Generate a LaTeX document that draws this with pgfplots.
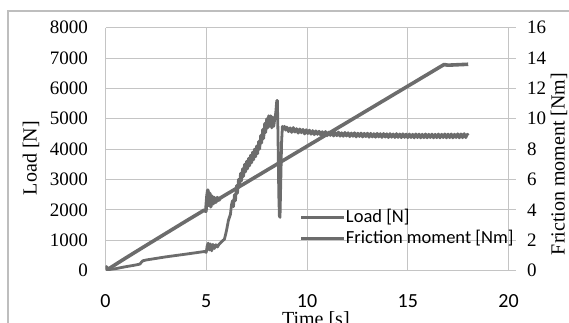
\documentclass[border=0pt]{standalone}
\usepackage{pgfplots}
\pgfplotsset{compat=1.18}
\usepackage{fontspec}
\setmainfont{Liberation Serif}
\newfontfamily\calibri{Carlito}
\definecolor{series}{RGB}{108,108,108}
\definecolor{gridgray}{RGB}{196,196,196}
\definecolor{framegray}{RGB}{190,190,190}

\pgfplotstableread{
t load
0 0
0.05 110
0.1 30
0.5 200
1 410
2 820
3 1225
4 1630
4.9 1990
4.98 1950
5.04 2450
5.08 2650
5.12 2150
5.17 2550
5.22 2100
5.28 2450
5.34 2200
5.4 2400
5.47 2250
5.55 2400
5.62 2320
5.7 2390
6 2509
7 2905
8 3301
9 3697
10 4093
11 4489
12 4885
13 5281
14 5677
15 6073
16 6469
16.8 6786
17 6765
17.5 6780
18 6795
}\loadtable

\pgfplotstableread{
t fm
0 0.15
0.05 0.25
0.1 0.05
0.5 0.12
1.0 0.25
1.4 0.34
1.7 0.42
1.85 0.64
2.05 0.70
3 0.90
4 1.08
4.9 1.25
5.0 1.20
5.05 1.65
5.1 1.80
5.15 1.35
5.2 1.75
5.27 1.30
5.33 1.72
5.4 1.45
5.48 1.70
5.55 1.55
5.65 1.75
5.8 1.95
5.9 2.05
6.0 2.6
6.1 3.3
6.2 3.7
6.25 4.3
6.30 4.6
6.35 4.2
6.40 5.0
6.45 4.6
6.50 5.6
6.55 5.1
6.60 6.0
6.65 5.5
6.70 6.4
6.75 5.9
6.80 6.7
6.85 6.2
6.90 7.0
6.95 6.5
7.00 7.2
7.05 6.7
7.10 7.4
7.15 6.9
7.20 7.6
7.25 7.1
7.30 7.8
7.35 7.3
7.40 8.0
7.45 7.5
7.50 8.2
7.55 7.7
7.60 8.5
7.65 8.0
7.70 8.9
7.75 8.4
7.80 9.3
7.85 8.7
7.90 9.7
7.95 9.1
8.00 10.0
8.05 9.4
8.10 10.2
8.15 9.5
8.20 10.2
8.25 9.4
8.30 10.1
8.35 9.5
8.40 10.0
8.45 10.4
8.5 11.2
8.53 11.2
8.56 9.0
8.6 5.0
8.63 3.6
8.66 3.5
8.7 6.0
8.74 8.5
8.78 9.5
8.82 9.3
8.88 9.5
8.94 9.25
9.00 9.45
9.08 9.15
9.16 9.40
9.24 9.10
9.32 9.42
9.40 9.12
9.48 9.35
9.56 9.05
9.64 9.33
9.72 9.08
9.80 9.30
9.88 9.00
9.96 9.28
10.04 9.02
10.12 9.25
10.20 8.98
10.28 9.22
10.36 8.95
10.44 9.20
10.52 8.97
10.60 9.18
10.68 8.92
10.76 9.15
10.84 8.90
10.92 9.16
11.00 8.88
11.08 9.12
11.16 8.90
11.24 9.14
11.32 8.86
11.40 9.10
11.48 8.88
11.56 9.12
11.64 8.85
11.72 9.08
11.80 8.84
11.88 9.10
11.96 8.86
12.04 9.08
12.12 8.82
12.20 9.06
12.28 8.84
12.36 9.08
12.44 8.80
12.52 9.05
12.60 8.83
12.68 9.06
12.76 8.80
12.84 9.04
12.92 8.82
13.00 9.05
13.08 8.78
13.16 9.04
13.24 8.80
13.32 9.02
13.40 8.78
13.48 9.04
13.56 8.80
13.64 9.02
13.72 8.77
13.80 9.03
13.88 8.79
13.96 9.01
14.04 8.76
14.12 9.02
14.20 8.78
14.28 9.00
14.36 8.76
14.44 9.02
14.52 8.77
14.60 9.00
14.68 8.75
14.76 9.01
14.84 8.77
14.92 8.99
15.00 8.75
15.08 9.00
15.16 8.76
15.24 8.98
15.32 8.74
15.40 9.00
15.48 8.76
15.56 8.99
15.64 8.74
15.72 8.98
15.80 8.75
15.88 9.00
15.96 8.74
16.04 8.98
16.12 8.76
16.20 8.99
16.28 8.74
16.36 8.98
16.44 8.75
16.52 9.00
16.60 8.74
16.68 8.98
16.76 8.76
16.84 9.00
16.92 8.74
17.00 8.99
17.08 8.75
17.16 9.00
17.24 8.74
17.32 8.98
17.40 8.76
17.48 9.01
17.56 8.74
17.64 9.00
17.72 8.75
17.80 9.02
17.88 8.76
17.96 8.98
18.00 8.90
}\fmtable

\begin{document}
\begin{tikzpicture}[x=1pt,y=1pt]
\useasboundingbox (0,0) rectangle (569,323);
\draw[framegray, line width=1.2pt] (8,-10) -- (8,312) -- (590,312);
\begin{axis}[
  at={(105.5pt,52.5pt)}, anchor=south west,
  scale only axis, width=403pt, height=242.8pt,
  xmin=0, xmax=20, ymin=0, ymax=8000,
  xtick={0,5,10,15,20}, xticklabels={0,5,10,15,20},
  ytick={0,1000,2000,3000,4000,5000,6000,7000,8000},
  yticklabels={0,1000,2000,3000,4000,5000,6000,7000,8000},
  grid=major, grid style={gridgray, line width=1pt},
  axis x line*=bottom, axis y line*=left,
  x axis line style={-}, y axis line style={-},
  axis line style={gridgray, line width=1pt},
  major tick length=0pt,
  yticklabel style={font=\fontsize{19}{19}\selectfont, anchor=east, inner sep=0pt, xshift=-17.5pt},
  xticklabel style={font=\calibri\fontsize{20}{20}\selectfont, anchor=north, inner sep=0pt, yshift=-24pt},
  xlabel={Time [s]},
  xlabel style={font=\fontsize{20}{20}\selectfont, at={(axis description cs:0.522,-0.167)}, anchor=north, inner sep=0pt},
  ylabel={Load [N]},
  ylabel style={font=\fontsize{20}{20}\selectfont, at={(axis description cs:-0.1849,0.463)}, anchor=center, inner sep=0pt},
]
\addplot[series, line width=3.6pt, line join=round] table[x=t, y=load] {\loadtable};
\end{axis}
\begin{axis}[
  at={(105.5pt,52.5pt)}, anchor=south west,
  scale only axis, width=403pt, height=242.8pt,
  xmin=0, xmax=20, ymin=0, ymax=16,
  hide x axis,
  axis y line*=right, y axis line style={-},
  axis line style={gridgray, line width=1pt},
  ytick={0,2,4,6,8,10,12,14,16},
  yticklabels={0,2,4,6,8,10,12,14,16},
  tick align=outside, major tick length=7pt,
  tick style={gridgray, line width=1pt},
  yticklabel style={font=\fontsize{19}{19}\selectfont, anchor=west, inner sep=0pt, xshift=11.5pt},
  ylabel={Friction moment [Nm]},
  ylabel style={font=\fontsize{20}{20}\selectfont, at={(axis description cs:1.1253,0.439)}, anchor=center, inner sep=0pt},
  legend style={at={(axis description cs:0.4826,0.257)}, anchor=north west, draw=none, fill=none, inner sep=0pt, outer sep=0pt, row sep=2pt,
    font=\calibri\fontsize{18.5}{21}\selectfont,
    nodes={inner sep=0pt, text height=14pt, text depth=5pt}},
  legend cell align=left,
  legend image code/.code={\draw[#1] (0pt,0pt) -- (43pt,0pt);},
]
\addlegendimage{series, line width=3pt}
\addlegendentry{Load [N]}
\addplot[series, line width=2.8pt, line join=round] table[x=t, y=fm] {\fmtable};
\addlegendentry{Friction moment [Nm]}
\end{axis}
\end{tikzpicture}
\end{document}
